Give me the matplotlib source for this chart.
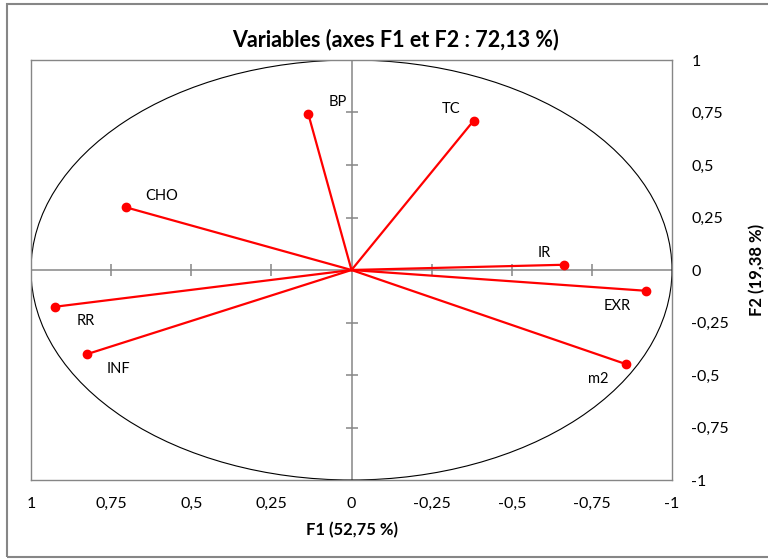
import matplotlib.pyplot as plt
from matplotlib.patches import Ellipse, Rectangle

plt.rcParams["font.family"] = ["Lato", "DejaVu Sans"]

# correlations of the variables with the first two factors
variables = ["BP", "TC", "CHO", "IR", "EXR", "m2", "RR", "INF"]
f1 = [0.135, -0.381, 0.705, -0.664, -0.919, -0.856, 0.925, 0.826]
f2 = [0.744, 0.711, 0.299, 0.025, -0.099, -0.448, -0.175, -0.401]

tick_values = [1, 0.75, 0.5, 0.25, 0, -0.25, -0.5, -0.75, -1]
tick_labels = ["1", "0,75", "0,5", "0,25", "0", "-0,25", "-0,5", "-0,75", "-1"]

# label placement around each point, in pixels
label_offsets = [(30, 12), (-23, 12), (36, 11), (-20, 12),
                 (-29, -15), (-28, -15), (31, -14), (32, -15)]

GRAY = "#868686"

fig = plt.figure(figsize=(7.68, 5.59), dpi=100)
fig.patches.append(Rectangle((7 / 768, 2 / 559), 1.0, 553 / 559, transform=fig.transFigure,
                             fill=False, edgecolor=GRAY, linewidth=1.5))

ax = fig.add_axes([31 / 768, 79 / 559, 641 / 768, 420 / 559])
ax.set_xlim(1, -1)
ax.set_ylim(-1, 1)
for side in ax.spines.values():
    side.set_color(GRAY)
    side.set_linewidth(1.0)

ax.set_xticks(tick_values)
ax.set_xticklabels(tick_labels, fontsize=11.5)
ax.yaxis.tick_right()
ax.set_yticks(tick_values)
ax.set_yticklabels(tick_labels, fontsize=11.5)
ax.tick_params(axis="x", length=0, pad=12)
ax.tick_params(axis="y", length=0, pad=14)

# centre axes with crossing tick marks
ax.axhline(0, color=GRAY, linewidth=1.1, zorder=1)
ax.axvline(0, color=GRAY, linewidth=1.1, zorder=1)
inner = [v for v in tick_values if v not in (0, 1, -1)]
ax.plot(inner, [0] * len(inner), linestyle="none", marker="|", markersize=8,
        markeredgewidth=1.1, color=GRAY, zorder=1)
ax.plot([0] * len(inner), inner, linestyle="none", marker="_", markersize=8,
        markeredgewidth=1.1, color=GRAY, zorder=1)

ax.add_patch(Ellipse((0, 0), 2, 2, fill=False, edgecolor="black", linewidth=0.8, zorder=2))

for name, x, y, off in zip(variables, f1, f2, label_offsets):
    ax.plot([0, x], [0, y], color="#FF0000", linewidth=1.6, zorder=3)
    ax.plot(x, y, "o", color="#FF0000", markersize=6, zorder=4)
    ax.annotate(name, (x, y), xytext=off, textcoords="offset pixels",
                ha="center", va="center", fontsize=10.5)

ax.set_xlabel("F1 (52,75 %)", fontsize=12, fontweight="bold", labelpad=8)
fig.text(757 / 768, 1 - 270 / 559, "F2 (19,38 %)", rotation=90,
         ha="center", va="center", fontsize=12, fontweight="bold")

fig.text(395 / 768, 1 - 40 / 559, "Variables (axes F1 et F2 : 72,13 %)",
         ha="center", va="center", fontsize=15.5, fontweight="bold")

fig.savefig("out.png", dpi=100)
